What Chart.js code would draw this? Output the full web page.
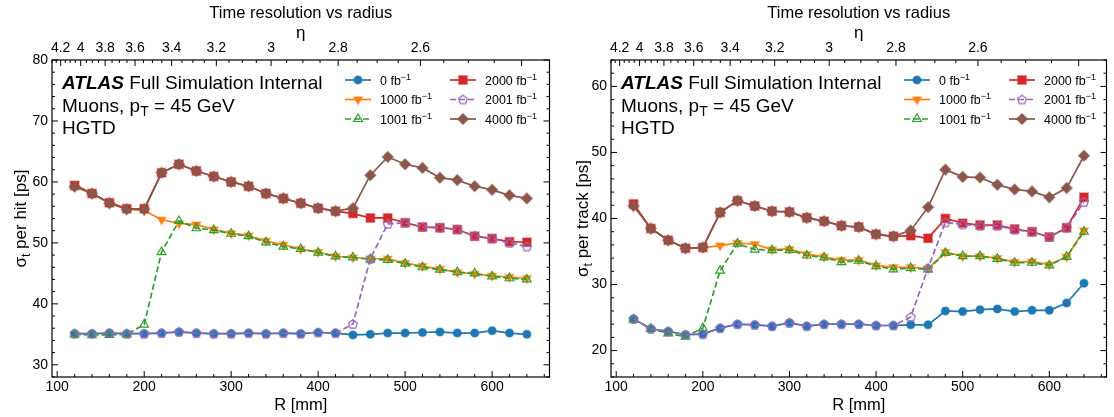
<!DOCTYPE html>
<html>
<head>
<meta charset="utf-8">
<script src="https://cdn.jsdelivr.net/npm/chart.js@4.4.0/dist/chart.umd.min.js"></script>
<style>
  html, body { margin: 0; padding: 0; background: #fff; overflow: hidden; }
  #wrap { position: relative; width: 1114px; height: 417px; }
  .panel { position: absolute; top: 0; height: 417px; }
</style>
</head>
<body>
<div id="wrap">
  <div class="panel" style="left:0;width:557px"><canvas id="hit" width="557" height="417"></canvas></div>
  <div class="panel" style="left:559px;width:555px"><canvas id="track" width="555" height="417"></canvas></div>
</div>
<script>
// R positions [mm]
const radius = [120, 140, 160, 180, 200, 220, 240, 260, 280, 300, 320, 340, 360, 380, 400,
                420, 440, 460, 480, 500, 520, 540, 560, 580, 600, 620, 640];

const lumiLabels = ['0', '1000', '1001', '2000', '2001', '4000'];

// sigma_t per hit [ps]
const hit0    = [35.1, 35.1, 35.2, 35.1, 35.1, 35.2, 35.4, 35.2, 35.1, 35.1, 35.2, 35.1, 35.2, 35.1, 35.3,
                 35.2, 34.9, 35.0, 35.2, 35.2, 35.3, 35.4, 35.2, 35.2, 35.6, 35.2, 35.0];
const hit1000 = [59.6, 58.1, 56.6, 55.6, 55.3, 53.8, 53.2, 53.0, 52.2, 51.6, 51.2, 50.3, 49.7, 49.0, 48.5,
                 47.8, 47.6, 47.4, 47.4, 46.7, 46.2, 45.7, 45.2, 44.9, 44.6, 44.4, 44.2];
const hit1001 = [35.0, 34.9, 34.9, 35.0, 36.6, 48.5, 53.6, 52.4, 52.1, 51.5, 51.1, 50.1, 49.4, 49.0, 48.4,
                 47.8, 47.6, 47.3, 47.2, 46.6, 46.0, 45.6, 45.2, 45.0, 44.5, 44.2, 44.0];
const hit2000 = [59.4, 58.1, 56.6, 55.6, 55.6, 61.5, 62.9, 61.8, 60.9, 60.0, 59.3, 58.1, 57.3, 56.5, 55.7,
                 55.2, 54.8, 54.1, 54.1, 53.3, 52.6, 52.5, 52.2, 51.1, 50.7, 50.2, 50.1];
const hit2001 = [35.1, 35.1, 35.2, 35.1, 35.1, 35.2, 35.4, 35.2, 35.1, 35.1, 35.2, 35.1, 35.2, 35.1, 35.3,
                 35.2, 36.7, 47.4, 53.1, 53.3, 52.6, 52.5, 52.2, 51.2, 50.7, 50.0, 49.4];
const hit4000 = [59.2, 58.1, 56.5, 55.5, 55.5, 61.5, 62.9, 61.8, 60.9, 60.0, 59.3, 58.1, 57.3, 56.5, 55.7,
                 55.2, 55.7, 61.1, 64.1, 62.9, 62.3, 60.7, 60.3, 59.3, 58.7, 57.8, 57.3];

// sigma_t per track [ps]
const track0    = [24.8, 23.3, 22.9, 22.4, 22.5, 23.4, 24.0, 23.9, 23.7, 24.2, 23.7, 24.0, 24.0, 24.0, 23.8,
                   23.8, 23.9, 23.9, 26.0, 25.9, 26.2, 26.3, 25.9, 26.1, 26.1, 27.2, 30.2];
const track1000 = [42.2, 38.5, 36.7, 35.5, 35.6, 35.9, 36.3, 36.1, 35.3, 35.4, 34.6, 34.2, 33.7, 33.7, 32.9,
                   32.6, 32.6, 32.4, 34.9, 34.3, 34.3, 34.0, 33.4, 33.5, 33.0, 34.2, 38.2];
const track1001 = [24.7, 23.3, 22.6, 22.1, 23.4, 32.1, 36.2, 35.3, 35.2, 35.2, 34.4, 34.1, 33.4, 33.6, 32.8,
                   32.3, 32.5, 32.3, 34.8, 34.3, 34.3, 33.9, 33.3, 33.3, 32.9, 34.2, 38.0];
const track2000 = [42.2, 38.5, 36.7, 35.5, 35.6, 40.9, 42.7, 41.9, 41.1, 41.0, 40.1, 39.6, 38.9, 38.7, 37.6,
                   37.3, 37.4, 37.0, 40.0, 39.3, 39.0, 39.0, 38.4, 38.0, 37.2, 38.6, 43.2];
const track2001 = [24.8, 23.3, 22.9, 22.4, 22.5, 23.4, 24.0, 23.9, 23.7, 24.2, 23.7, 24.0, 24.0, 24.0, 23.8,
                   23.8, 25.1, 32.5, 39.4, 39.1, 38.9, 38.9, 38.3, 38.0, 37.2, 38.6, 42.5];
const track4000 = [41.9, 38.5, 36.7, 35.5, 35.6, 40.9, 42.7, 41.9, 41.1, 41.0, 40.1, 39.6, 38.9, 38.7, 37.6,
                   37.3, 38.2, 41.7, 47.4, 46.3, 46.2, 45.1, 44.4, 44.1, 43.2, 44.6, 49.5];

// tick labels
const xTicks = [100, 200, 300, 400, 500, 600];
const hitTicks = [30, 40, 50, 60, 70, 80];
const trackTicks = [20, 30, 40, 50, 60];
const etaTicks = [4.2, 4.0, 3.8, 3.6, 3.4, 3.2, 3.0, 2.8, 2.6];
const etaTickLabels = ['4.2', '4', '3.8', '3.6', '3.4', '3.2', '3', '2.8', '2.6'];

const FONT = "'Liberation Sans', Arial, Helvetica, sans-serif";
Chart.defaults.font.family = FONT;
Chart.defaults.color = '#000';

const rMin = 94, rMax = 666;
const zHGTD = 3465; // mm, for the eta axis
const etaToR = eta => zHGTD * Math.tan(2 * Math.atan(Math.exp(-eta)));

const colors = ['#1f77b4', '#ff7f0e', '#2ca02c', '#d62728', '#9467bd', '#8c564b'];
const halo = ['rgba(31,119,180,0.45)', 'rgba(255,127,14,0.45)', '#2ca02c',
              'rgba(214,39,40,0.45)', '#9467bd', 'rgba(140,86,75,0.45)'];

function pentagon(color) {
  const c = document.createElement('canvas');
  c.width = 12; c.height = 12;
  const g = c.getContext('2d');
  g.strokeStyle = color;
  g.lineWidth = 1.2;
  g.beginPath();
  for (let k = 0; k < 5; k++) {
    const a = -Math.PI / 2 + k * 2 * Math.PI / 5;
    const px = 6 + 4.6 * Math.cos(a), py = 6.4 + 4.6 * Math.sin(a);
    if (k) g.lineTo(px, py); else g.moveTo(px, py);
  }
  g.closePath();
  g.stroke();
  return c;
}

const markers = [
  { style: 'circle', rot: 0, r: 4, dash: [], open: false },
  { style: 'triangle', rot: 180, r: 5, dash: [], open: false },
  { style: 'triangle', rot: 0, r: 5, dash: [6, 3], open: true },
  { style: 'rect', rot: 0, r: 6, dash: [], open: false },
  { style: pentagon(colors[4]), rot: 0, r: 5, dash: [6, 3], open: true },
  { style: 'rectRot', rot: 0, r: 5.5, dash: [], open: false },
];

function runs(ctx, x, y, parts, align) {
  let w = 0;
  parts.forEach(p => { ctx.font = p.f; w += ctx.measureText(p.t).width; });
  let cx = align === 'center' ? x - w / 2 : x;
  parts.forEach(p => {
    ctx.font = p.f;
    ctx.fillText(p.t, cx, y + (p.dy || 0));
    cx += ctx.measureText(p.t).width;
  });
}

const decor = {
  id: 'decor',
  afterDraw(chart, args, opts) {
    const { ctx, chartArea: a, scales } = chart;
    const xs = scales.x, ys = scales.y;
    ctx.save();
    ctx.strokeStyle = '#000';
    ctx.lineWidth = 1;
    ctx.beginPath();
    // bottom ticks (R)
    for (let r = 100; r <= 660; r += 20) {
      const px = xs.getPixelForValue(r);
      const len = r % 100 === 0 ? 6 : 3;
      ctx.moveTo(px, a.bottom); ctx.lineTo(px, a.bottom - len);
    }
    // top ticks (eta)
    for (let k = 40; k <= 100; k++) {
      const rr = etaToR(k * 0.05);
      if (rr <= rMin || rr >= rMax) continue;
      const px = xs.getPixelForValue(rr);
      const len = k % 4 === 0 ? 6 : 3;
      ctx.moveTo(px, a.top); ctx.lineTo(px, a.top + len);
    }
    // left / right ticks
    for (let v = Math.ceil(ys.min / 2) * 2; v <= ys.max; v += 2) {
      const py = ys.getPixelForValue(v);
      const len = v % 10 === 0 ? 6 : 3;
      ctx.moveTo(a.left, py); ctx.lineTo(a.left + len, py);
      ctx.moveTo(a.right, py); ctx.lineTo(a.right - len, py);
    }
    ctx.stroke();
    ctx.lineWidth = 1.2;
    ctx.strokeRect(a.left, a.top, a.right - a.left, a.bottom - a.top);

    ctx.fillStyle = '#000';
    // title
    ctx.textBaseline = 'middle';
    ctx.font = '16.5px ' + FONT;
    ctx.textAlign = 'center';
    ctx.fillText('Time resolution vs radius', (a.left + a.right) / 2, 13);
    ctx.textAlign = 'left';
    ctx.textBaseline = 'alphabetic';

    // ATLAS label
    const tx = a.left + 10;
    runs(ctx, tx, 88.5, [
      { t: 'ATLAS', f: 'italic bold 19px ' + FONT },
      { t: ' Full Simulation Internal', f: '19px ' + FONT }]);
    runs(ctx, tx, 111.5, [
      { t: 'Muons, p', f: '19px ' + FONT },
      { t: 'T', f: '14px ' + FONT, dy: 4 },
      { t: ' = 45 GeV', f: '19px ' + FONT }]);
    runs(ctx, tx, 133.5, [{ t: 'HGTD', f: '19px ' + FONT }]);

    // legend (2 columns)
    const colX = [a.left + 293, a.left + 398];
    const rowY = [80, 99.5, 119];
    chart.data.datasets.forEach((ds, i) => {
      const x0 = colX[Math.floor(i / 3)], y = rowY[i % 3];
      ctx.save();
      ctx.strokeStyle = ds.borderColor;
      ctx.lineWidth = ds.borderWidth;
      ctx.setLineDash(ds.borderDash);
      ctx.beginPath(); ctx.moveTo(x0, y); ctx.lineTo(x0 + 26, y); ctx.stroke();
      ctx.setLineDash([]);
      ctx.fillStyle = ds.pointBackgroundColor;
      ctx.strokeStyle = ds.pointBorderColor;
      ctx.lineWidth = ds.pointBorderWidth;
      Chart.helpers.drawPoint(ctx, {
        pointStyle: ds.pointStyle, rotation: ds.pointRotation,
        radius: ds.pointRadius, borderWidth: ds.pointBorderWidth
      }, x0 + 13, y);
      ctx.restore();
      ctx.fillStyle = '#000';
      runs(ctx, x0 + 35, y + 4.5, [
        { t: ds.label + ' fb', f: '12.5px ' + FONT },
        { t: '\u22121', f: '9px ' + FONT, dy: -5 }]);
    });

    // y axis title
    ctx.save();
    ctx.translate(opts.ylabelX, (a.top + a.bottom) / 2);
    ctx.rotate(-Math.PI / 2);
    runs(ctx, 0, 6, [
      { t: '\u03c3', f: '17px ' + FONT },
      { t: 't', f: '12px ' + FONT, dy: 4 },
      { t: ' per ' + opts.ylabel + ' [ps]', f: '17px ' + FONT }], 'center');
    ctx.restore();
    ctx.restore();
  }
};

function makeChart(id, series, yMin, yMax, yTicks, ylabel, ylabelX, padRight) {
  const datasets = series.map((vals, i) => {
    const m = markers[i];
    return {
      label: lumiLabels[i],
      data: radius.map((r, j) => ({ x: r, y: vals[j] })),
      borderColor: colors[i],
      borderWidth: 1.7,
      borderDash: m.dash,
      pointStyle: m.style,
      pointRotation: m.rot,
      pointRadius: m.r,
      pointBackgroundColor: m.open ? 'rgba(0,0,0,0)' : colors[i],
      pointBorderColor: halo[i],
      pointBorderWidth: m.open ? 1.2 : 1.5,
      tension: 0,
      order: series.length - i,
    };
  });
  return new Chart(document.getElementById(id), {
    type: 'line',
    data: { datasets },
    options: {
      responsive: false,
      animation: false,
      events: [],
      devicePixelRatio: 1,
      layout: { padding: { left: 0, right: padRight, top: 0, bottom: 0 } },
      plugins: { legend: { display: false }, tooltip: { enabled: false }, title: { display: false },
                 decor: { ylabel, ylabelX } },
      scales: {
        x: {
          type: 'linear', position: 'bottom', min: rMin, max: rMax,
          grid: { display: false, drawTicks: false }, border: { display: false },
          afterBuildTicks: s => { s.ticks = xTicks.map(v => ({ value: v })); },
          ticks: { font: { size: 14 }, padding: 2, maxRotation: 0, autoSkip: false },
          title: { display: true, text: 'R [mm]', font: { size: 16.5 }, padding: { top: 0, bottom: 2 } },
          afterFit: s => { s.height = 40; },
        },
        x2: {
          type: 'linear', position: 'top', min: rMin, max: rMax,
          grid: { display: false, drawTicks: false }, border: { display: false },
          afterBuildTicks: s => { s.ticks = etaTicks.map(e => ({ value: etaToR(e) })); },
          ticks: { font: { size: 14 }, padding: 3, maxRotation: 0, autoSkip: false,
                   callback: (v, i) => etaTickLabels[i] },
          title: { display: true, text: '\u03b7', font: { size: 17 }, padding: { top: 23, bottom: 0 } },
          afterFit: s => { s.height = 60; },
        },
        y: {
          type: 'linear', position: 'left', min: yMin, max: yMax,
          grid: { display: false, drawTicks: false }, border: { display: false },
          afterBuildTicks: s => { s.ticks = yTicks.map(v => ({ value: v })); },
          ticks: { font: { size: 14 }, padding: 4 },
          afterFit: s => { s.width = 52; },
        },
      },
    },
    plugins: [decor],
  });
}

makeChart('hit', [hit0, hit1000, hit1001, hit2000, hit2001, hit4000],
          28, 80, hitTicks, 'hit', 20, 5);
makeChart('track', [track0, track1000, track1001, track2000, track2001, track4000],
          16, 64, trackTicks, 'track', 23, 3);
</script>
</body>
</html>
